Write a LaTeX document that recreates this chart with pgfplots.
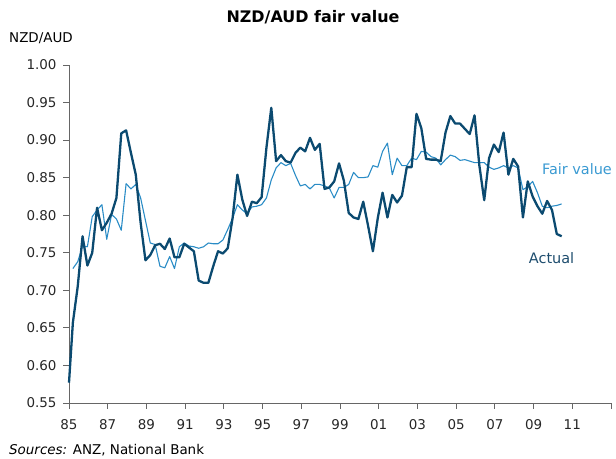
\documentclass[border=0pt]{standalone}
\usepackage{fontspec}
\setmainfont{DejaVu Sans}
\usepackage{pgfplots}
\pgfplotsset{compat=1.18}
\definecolor{actualc}{HTML}{0B4A70}
\definecolor{fairc}{HTML}{2A8CC6}
\definecolor{fairlab}{HTML}{3A9AD2}
\definecolor{actlab}{HTML}{1E4D6E}

% x = quarters since 1985Q1
\pgfplotstableread{
x y
0 0.577
0.8 0.657
1.8 0.705
2.8 0.772
3.8 0.733
4.8 0.750
5.8 0.810
6.8 0.780
7.8 0.790
8.8 0.802
9.8 0.823
10.8 0.909
11.8 0.913
12.8 0.883
13.8 0.854
14.8 0.790
15.8 0.740
16.8 0.747
17.8 0.760
18.8 0.762
19.8 0.755
20.8 0.769
21.8 0.744
22.8 0.744
23.8 0.762
24.8 0.757
25.8 0.752
26.8 0.713
27.8 0.710
28.8 0.710
29.8 0.732
30.8 0.752
31.8 0.749
32.8 0.756
33.8 0.796
34.8 0.854
35.8 0.821
36.8 0.799
37.8 0.818
38.8 0.816
39.8 0.824
40.8 0.890
41.8 0.943
42.8 0.872
43.8 0.880
44.8 0.872
45.8 0.870
46.8 0.883
47.8 0.890
48.8 0.885
49.8 0.903
50.8 0.887
51.8 0.895
52.8 0.835
53.8 0.837
54.8 0.845
55.8 0.869
56.8 0.846
57.8 0.803
58.8 0.797
59.8 0.795
60.8 0.818
61.8 0.786
62.8 0.752
63.8 0.796
64.8 0.830
65.8 0.797
66.8 0.827
67.8 0.817
68.8 0.826
69.8 0.864
70.8 0.864
71.8 0.935
72.8 0.916
73.8 0.875
74.8 0.874
75.8 0.874
76.8 0.872
77.8 0.910
78.8 0.932
79.8 0.922
80.8 0.922
81.8 0.915
82.8 0.908
83.8 0.933
84.8 0.866
85.8 0.820
86.8 0.876
87.8 0.894
88.8 0.884
89.8 0.910
90.8 0.854
91.8 0.875
92.8 0.865
93.8 0.797
94.8 0.845
95.8 0.825
96.8 0.812
97.8 0.802
98.8 0.819
99.8 0.807
100.8 0.775
101.8 0.772
}\actual

\pgfplotstableread{
x y
0.8 0.729
1.8 0.738
2.8 0.759
3.8 0.758
4.8 0.798
5.8 0.807
6.8 0.814
7.8 0.768
8.8 0.801
9.8 0.795
10.8 0.780
11.8 0.842
12.8 0.835
13.8 0.841
14.8 0.823
15.8 0.793
16.8 0.763
17.8 0.761
18.8 0.732
19.8 0.730
20.8 0.745
21.8 0.729
22.8 0.758
23.8 0.763
24.8 0.759
25.8 0.758
26.8 0.756
27.8 0.758
28.8 0.763
29.8 0.762
30.8 0.762
31.8 0.767
32.8 0.781
33.8 0.796
34.8 0.814
35.8 0.807
36.8 0.802
37.8 0.811
38.8 0.812
39.8 0.814
40.8 0.823
41.8 0.847
42.8 0.863
43.8 0.870
44.8 0.866
45.8 0.869
46.8 0.853
47.8 0.839
48.8 0.841
49.8 0.835
50.8 0.841
51.8 0.841
52.8 0.839
53.8 0.836
54.8 0.823
55.8 0.837
56.8 0.837
57.8 0.841
58.8 0.857
59.8 0.850
60.8 0.850
61.8 0.851
62.8 0.866
63.8 0.864
64.8 0.885
65.8 0.896
66.8 0.854
67.8 0.876
68.8 0.866
69.8 0.866
70.8 0.876
71.8 0.874
72.8 0.885
73.8 0.884
74.8 0.878
75.8 0.876
76.8 0.867
77.8 0.874
78.8 0.880
79.8 0.878
80.8 0.873
81.8 0.874
82.8 0.872
83.8 0.870
84.8 0.870
85.8 0.870
86.8 0.864
87.8 0.861
88.8 0.863
89.8 0.866
90.8 0.863
91.8 0.866
92.8 0.863
93.8 0.834
94.8 0.838
95.8 0.845
96.8 0.830
97.8 0.812
98.8 0.810
99.8 0.812
100.8 0.813
101.8 0.815
}\fair

\begin{document}
\begin{tikzpicture}[x=1bp,y=1bp]
\useasboundingbox (-69,-56) rectangle (547,403);
\begin{axis}[
  scale only axis,
  width=542bp,
  height=338bp,
  xmin=0, xmax=112,
  ymin=0.55, ymax=1.00,
  axis lines=left,
  axis line style={-, draw=black!60, line width=0.8pt},
  tick style={draw=black!60, line width=0.8pt},
  tick align=outside,
  major tick length=6bp,
  xtick={0,8,...,112},
  xticklabels={85,87,89,91,93,95,97,99,01,03,05,07,09,11},
  ytick={0.55,0.60,...,1.001},
  yticklabel style={/pgf/number format/fixed,/pgf/number format/fixed zerofill,/pgf/number format/precision=2, xshift=-3bp},
  /pgf/number format/assume math mode=true,
  tick label style={font=\fontsize{13.5}{16}\selectfont, black!85},
  xticklabel style={yshift=-7bp},
  clip=false,
]
\addplot[fairc, line width=1.1pt, line join=round] table[x=x,y=y] {\fair};
\addplot[actualc, line width=2.3pt, line join=round] table[x=x,y=y] {\actual};
\node[anchor=west, inner sep=0pt, text=fairlab, font=\fontsize{14.5}{17}\selectfont] at (axis cs:97.7,0.862) {Fair value};
\node[anchor=west, inner sep=0pt, text=actlab, font=\fontsize{14.5}{17}\selectfont] at (axis cs:95.0,0.743) {Actual};
\end{axis}
\node[font=\bfseries\fontsize{16}{19}\selectfont] at (244,386) {NZD/AUD fair value};
\node[anchor=west, font=\fontsize{13.5}{16}\selectfont, inner sep=0pt] at (-60,365) {NZD/AUD};
\node[anchor=west, font=\fontsize{13.5}{16}\selectfont, inner sep=0pt] at (-60,-47) {\textit{Sources:} ANZ, National Bank};
\end{tikzpicture}
\end{document}
